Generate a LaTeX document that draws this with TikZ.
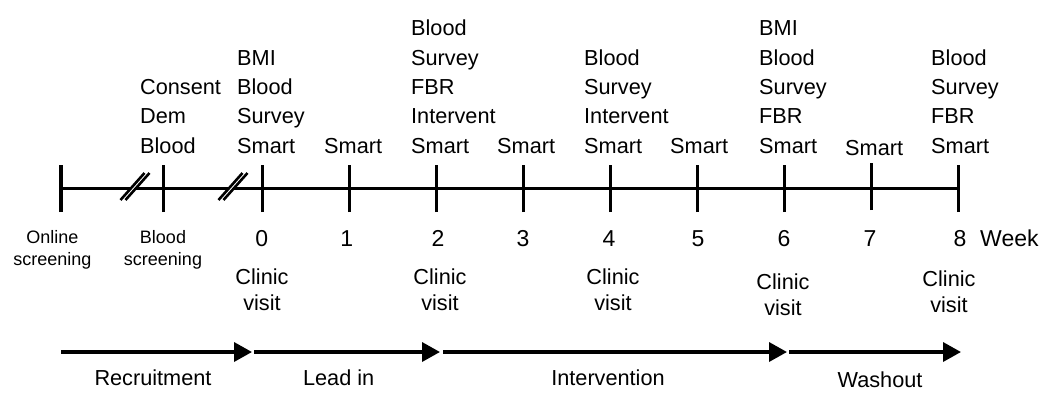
\documentclass[tikz,border=0pt]{standalone}
\usepackage{fontspec}
\setmainfont{Liberation Sans}
\usetikzlibrary{arrows.meta}
\begin{document}
\begin{tikzpicture}[x=1pt,y=-1pt,
  txt/.style={font=\fontsize{21.7}{29.3}\selectfont, inner sep=0pt, align=left, anchor=base west},
  num/.style={font=\fontsize{23}{26}\selectfont, inner sep=0pt, anchor=base},
  visit/.style={font=\fontsize{21.7}{26}\selectfont, inner sep=0pt, align=center, anchor=base},
  small/.style={font=\fontsize{18}{22}\selectfont, inner sep=0pt, align=center, anchor=base},
  phase/.style={font=\fontsize{21.7}{26}\selectfont, inner sep=0pt, anchor=base},
  axis/.style={line width=3pt},
  tickline/.style={line width=3.2pt},
  phasearrow/.style={line width=3.5pt, -{Triangle[length=18pt,width=19pt]}},
  brk/.style={line width=2.6pt}
]
\useasboundingbox (0,0) rectangle (1054,392);
% tick coordinates
\coordinate (s1) at (61,188);
\coordinate (s2) at (163.5,188);
\foreach \i in {0,...,8}{\coordinate (w\i) at ({262.3+87*\i},188);}
% timeline
\draw[axis] (s1) -- (w8);
% ticks
\foreach \c in {s1,s2,w0,w1,w2,w3,w4,w5,w6,w8}{\draw[tickline] ([yshift=-24pt]\c) -- ([yshift=23pt]\c);}
\draw[tickline] ([yshift=-22pt]w7) -- ([yshift=25pt]w7);
% break marks
\foreach \bx in {135,233}{
  \draw[white, line width=4pt] (\bx-12,200) -- (\bx+12,173);
  \draw[brk] (\bx-14.5,200) -- (\bx+9.5,173);
  \draw[brk] (\bx-9.5,200) -- (\bx+14.5,173);
}
% activities above
\node[txt] (a0) at (140,153) {Consent\\Dem\\Blood};
\node[txt] (b0) at (237,153) {BMI\\Blood\\Survey\\Smart};
\node[txt] (b1) at (324,153) {Smart};
\node[txt] (b2) at (411,153) {Blood\\Survey\\FBR\\Intervent\\Smart};
\node[txt] (b3) at (497,153) {Smart};
\node[txt] (b4) at (584,153) {Blood\\Survey\\Intervent\\Smart};
\node[txt] (b5) at (670,153) {Smart};
\node[txt] (b6) at (759,153) {BMI\\Blood\\Survey\\FBR\\Smart};
\node[txt] (b7) at (845,155) {Smart};
\node[txt] (b8) at (931,153) {Blood\\Survey\\FBR\\Smart};
% screening labels
\node[small] (on) at (52.5,265) {Online\\screening};
\node[small] (bs) at (163,265) {Blood\\screening};
% week numbers
\node[num] (n0) at (261.7,246) {0};
\node[num] (n1) at (346.7,246) {1};
\node[num] (n2) at (438,246) {2};
\node[num] (n3) at (523,246) {3};
\node[num] (n4) at (609,246) {4};
\node[num] (n5) at (698,246) {5};
\node[num] (n6) at (784,246) {6};
\node[num] (n7) at (870,246) {7};
\node[num] (n8) at (960,246) {8};
\node[num, anchor=base west] (wk) at (980,246) {Week};
% clinic visits
\node[visit] (c0) at (262,310) {Clinic\\visit};
\node[visit] (c2) at (440,310) {Clinic\\visit};
\node[visit] (c4) at (613,310) {Clinic\\visit};
\node[visit] (c6) at (783,315) {Clinic\\visit};
\node[visit] (c8) at (949,312) {Clinic\\visit};
% phase arrows
\coordinate (p0) at (61,352);
\coordinate (p1) at (252,352);
\coordinate (p1b) at (254,352);
\coordinate (p2) at (440,352);
\coordinate (p2b) at (443,352);
\coordinate (p3) at (787,352);
\coordinate (p3b) at (789,352);
\coordinate (p4) at (961,352);
\draw[phasearrow] (p0) -- (p1);
\draw[phasearrow] (p1b) -- (p2);
\draw[phasearrow] (p2b) -- (p3);
\draw[phasearrow] (p3b) -- (p4);
\node[phase] (l1) at (153,385) {Recruitment};
\node[phase] (l2) at (338.7,385) {Lead in};
\node[phase] (l3) at (608,385) {Intervention};
\node[phase] (l4) at (880,387.5) {Washout};
\end{tikzpicture}
\end{document}
